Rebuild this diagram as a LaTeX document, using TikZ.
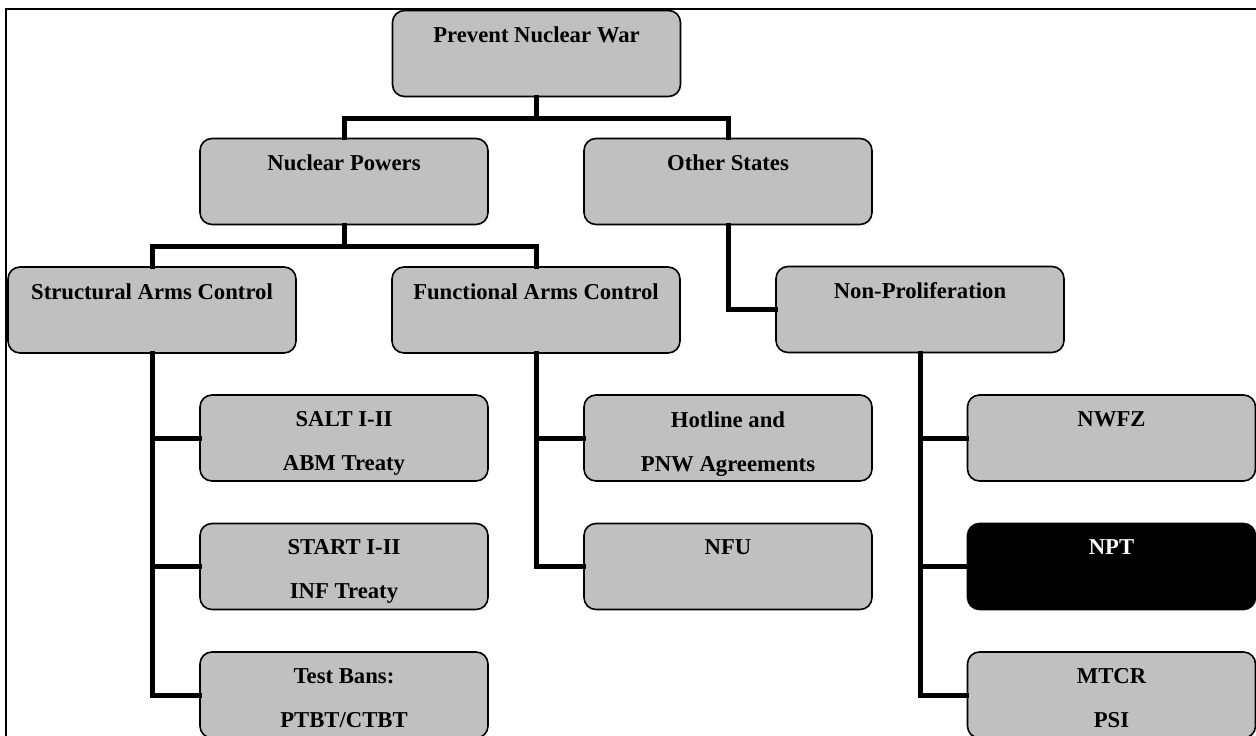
\documentclass[tikz,border=0pt]{standalone}
\usepackage{fontspec}
\setmainfont{Liberation Serif}
\begin{document}
\begin{tikzpicture}[x=1pt,y=-1pt,
  box/.style={draw=black, line width=1.6pt, fill=boxgray, rounded corners=12pt,
    minimum width=288pt, minimum height=86pt, inner sep=0pt},
  darkbox/.style={box, fill=black},
  lbl/.style={anchor=north, inner sep=0pt, align=center,
    font=\fontsize{22.7}{44}\selectfont\bfseries},
  conn/.style={line width=5pt, line join=miter, line cap=rect}]
\definecolor{boxgray}{RGB}{192,192,192}
\useasboundingbox (0,0) rectangle (1256,736);
\clip (0,0) rectangle (1256,736);
% frame
\draw[line width=2pt] (6,745) -- (6,9) -- (1265,9);
% boxes
\node[box] (pnw) at (536.5,53.5) {};
\node[box] (np) at (344,181.5) {};
\node[box] (os) at (728,181.5) {};
\node[box] (sac) at (152,310) {};
\node[box] (fac) at (536,310) {};
\node[box] (npr) at (920,309.5) {};
\node[box] (salt) at (344,438) {};
\node[box] (hot) at (728,438) {};
\node[box] (nwfz) at (1111.5,438) {};
\node[box] (start) at (344,566.5) {};
\node[box] (nfu) at (728,566.5) {};
\node[darkbox] (npt) at (1111.5,566.5) {};
\node[box] (test) at (344,695) {};
\node[box] (mtcr) at (1111.5,695) {};
% labels
\node[lbl] (pnw-t) at ([yshift=-17pt]pnw.north) {Prevent Nuclear War};
\node[lbl] (np-t) at ([yshift=-17pt]np.north) {Nuclear Powers};
\node[lbl] (os-t) at ([yshift=-17pt]os.north) {Other States};
\node[lbl] (sac-t) at ([yshift=-17pt]sac.north) {Structural Arms Control};
\node[lbl] (fac-t) at ([yshift=-17pt]fac.north) {Functional Arms Control};
\node[lbl] (npr-t) at ([yshift=-17pt]npr.north) {Non-Proliferation};
\node[lbl] (salt-t) at ([yshift=-17pt]salt.north) {SALT I-II\\ABM Treaty};
\node[lbl] (hot-t) at ([yshift=-17pt]hot.north) {Hotline and\\PNW Agreements};
\node[lbl] (nwfz-t) at ([yshift=-17pt]nwfz.north) {NWFZ};
\node[lbl] (start-t) at ([yshift=-17pt]start.north) {START I-II\\INF Treaty};
\node[lbl] (nfu-t) at ([yshift=-17pt]nfu.north) {NFU};
\node[lbl, text=white] (npt-t) at ([yshift=-17pt]npt.north) {NPT};
\node[lbl] (test-t) at ([yshift=-17pt]test.north) {Test Bans:\\PTBT/CTBT};
\node[lbl] (mtcr-t) at ([yshift=-17pt]mtcr.north) {MTCR\\PSI};
% connectors
\coordinate (j1) at ([yshift=-21pt]pnw.south);
\draw[conn] (pnw.south) -- (j1);
\draw[conn] (np.north) |- (j1) -| (os.north);
\coordinate (j2) at ([yshift=-21pt]np.south);
\draw[conn] (np.south) -- (j2);
\draw[conn] (sac.north) |- (j2) -| (fac.north);
\draw[conn] (os.south) |- (npr.west);
\draw[conn] (sac.south) |- (salt.west);
\draw[conn] (sac.south) |- (start.west);
\draw[conn] (sac.south) |- (test.west);
\draw[conn] (fac.south) |- (hot.west);
\draw[conn] (fac.south) |- (nfu.west);
\draw[conn] (npr.south) |- (nwfz.west);
\draw[conn] (npr.south) |- (npt.west);
\draw[conn] (npr.south) |- (mtcr.west);
\end{tikzpicture}
\end{document}
